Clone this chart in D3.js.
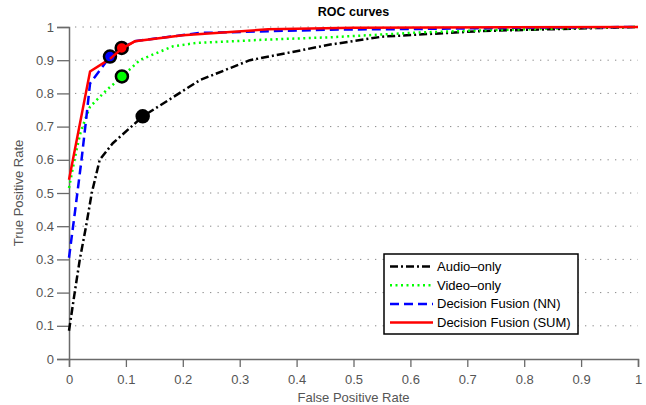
<!DOCTYPE html>
<html>
<head>
<meta charset="utf-8">
<script src="https://cdn.jsdelivr.net/npm/d3@7"></script>
<style>
  body { margin: 0; background: #fff; }
  text { font-family: "Liberation Sans", Arial, sans-serif; }
</style>
</head>
<body>
<div id="chart"></div>
<script>
// ROC curves, values
const audioFpr = [0, 0.01, 0.019, 0.03, 0.04, 0.054, 0.077, 0.13, 0.23, 0.318, 0.459, 0.551, 0.727, 1]
const audioTpr = [0.085, 0.2, 0.3, 0.4, 0.5, 0.6, 0.65, 0.731, 0.84, 0.9, 0.947, 0.971, 0.988, 1]

const videoFpr = [0, 0.005, 0.012, 0.02, 0.028, 0.037, 0.066, 0.087, 0.125, 0.183, 0.224, 0.347, 0.459, 0.61, 0.727, 0.903, 1]
const videoTpr = [0.515, 0.56, 0.62, 0.68, 0.72, 0.76, 0.81, 0.841, 0.901, 0.942, 0.952, 0.962, 0.969, 0.983, 0.99, 0.997, 1]

const nnFpr = [0, 0.011, 0.022, 0.03, 0.037, 0.055, 0.072, 0.113, 0.23, 0.459, 0.61, 0.81, 1]
const nnTpr = [0.305, 0.45, 0.6, 0.72, 0.83, 0.871, 0.911, 0.957, 0.982, 0.992, 0.994, 0.998, 1]

const sumFpr = [0, 0.037, 0.072, 0.093, 0.116, 0.2, 0.35, 0.5, 1]
const sumTpr = [0.54, 0.866, 0.904, 0.935, 0.957, 0.975, 0.993, 0.998, 1]

// operating points (circles)
const opNames = ["Audio-only", "Video-only", "Decision Fusion (NN)", "Decision Fusion (SUM)"]
const opFpr = [0.1295, 0.093, 0.072, 0.0926]
const opTpr = [0.731, 0.851, 0.911, 0.937]

const xTicks = [0, 0.1, 0.2, 0.3, 0.4, 0.5, 0.6, 0.7, 0.8, 0.9, 1]
const yTicks = [0, 0.1, 0.2, 0.3, 0.4, 0.5, 0.6, 0.7, 0.8, 0.9, 1]

const W = 646, H = 405
const margin = {top: 27, right: 8, bottom: 46, left: 69}

const svg = d3.select("#chart").append("svg")
  .attr("width", W).attr("height", H)

const x = d3.scaleLinear().domain([0, 1]).range([margin.left, W - margin.right])
const y = d3.scaleLinear().domain([0, 1]).range([H - margin.bottom, margin.top])

const axisColor = "#6a6a6a"
const labelColor = "#555"

// horizontal dotted grid
svg.append("g")
  .selectAll("line")
  .data(yTicks.filter(d => d > 0))
  .join("line")
    .attr("x1", x(0) + 6).attr("x2", x(1))
    .attr("y1", d => y(d)).attr("y2", d => y(d))
    .attr("stroke", "#888")
    .attr("stroke-width", 1)
    .attr("stroke-dasharray", "1.3,6.2")

// x axis
const xAxis = svg.append("g").attr("transform", `translate(0,${y(0)})`)
xAxis.call(d3.axisBottom(x).tickValues(d3.range(0, 1.001, 0.01)).tickSize(-2).tickFormat(""))
xAxis.call(d3.axisBottom(x).tickValues(d3.range(0.05, 1, 0.1)).tickSize(4).tickFormat(""))
xAxis.call(d3.axisBottom(x).tickValues(xTicks).tickSize(8).tickPadding(8).tickFormat(d => d3.format("")(d)))
xAxis.selectAll("path").attr("stroke", axisColor).attr("stroke-width", 1.5)
xAxis.selectAll("line").attr("stroke", axisColor).attr("stroke-width", 1.3)
xAxis.selectAll("text").attr("fill", labelColor).style("font-size", "13px")

// y axis
const yAxis = svg.append("g").attr("transform", `translate(${x(0)},0)`)
yAxis.call(d3.axisLeft(y).tickValues(d3.range(0.05, 1, 0.1)).tickSize(6).tickFormat(""))
yAxis.call(d3.axisLeft(y).tickValues(yTicks).tickSize(12).tickPadding(3).tickFormat(d => d3.format("")(d)))
yAxis.selectAll("path").attr("stroke", axisColor).attr("stroke-width", 1.5)
yAxis.selectAll("line").attr("stroke", axisColor).attr("stroke-width", 1.3)
yAxis.selectAll("text").attr("fill", labelColor).style("font-size", "13px")

// labels
svg.append("text")
  .attr("x", (x(0) + x(1)) / 2).attr("y", 16)
  .attr("text-anchor", "middle")
  .style("font-size", "12.5px").style("font-weight", "bold")
  .text("ROC curves")

svg.append("text")
  .attr("x", (x(0) + x(1)) / 2).attr("y", 402)
  .attr("text-anchor", "middle")
  .attr("fill", labelColor)
  .style("font-size", "13px")
  .text("False Positive Rate")

svg.append("text")
  .attr("transform", `translate(23,${(y(0) + y(1)) / 2}) rotate(-90)`)
  .attr("text-anchor", "middle")
  .attr("fill", labelColor)
  .style("font-size", "13px")
  .text("True Positive Rate")

// curves
const series = [
  {name: opNames[0], fpr: audioFpr, tpr: audioTpr, color: "#000", dash: "8,3,2,3"},
  {name: opNames[1], fpr: videoFpr, tpr: videoTpr, color: "#00ff00", dash: "2,3.5"},
  {name: opNames[2], fpr: nnFpr, tpr: nnTpr, color: "#0000ff", dash: "9,5"},
  {name: opNames[3], fpr: sumFpr, tpr: sumTpr, color: "#ff0000", dash: null}
]

const line = d3.line().x(d => x(d[0])).y(d => y(d[1]))

svg.append("g")
  .selectAll("path")
  .data(series)
  .join("path")
    .attr("fill", "none")
    .attr("stroke", d => d.color)
    .attr("stroke-width", 2.5)
    .attr("stroke-dasharray", d => d.dash)
    .attr("d", d => line(d.fpr.map((f, i) => [f, d.tpr[i]])))

// operating point markers
svg.append("g")
  .selectAll("circle")
  .data(series)
  .join("circle")
    .attr("cx", (d, i) => x(opFpr[i]))
    .attr("cy", (d, i) => y(opTpr[i]))
    .attr("r", 6)
    .attr("fill", d => d.color)
    .attr("stroke", "#000")
    .attr("stroke-width", 2.5)

// red line runs over its own marker
svg.append("path")
  .attr("fill", "none")
  .attr("stroke", "#ff0000")
  .attr("stroke-width", 2.5)
  .attr("d", line(sumFpr.map((f, i) => [f, sumTpr[i]]).filter(d => d[0] > 0.07 && d[0] < 0.12)))

// legend
const lg = svg.append("g").attr("transform", "translate(384,254)")
lg.append("rect")
  .attr("width", 194).attr("height", 80)
  .attr("fill", "#fff").attr("stroke", "#000").attr("stroke-width", 1.5)

const rows = lg.selectAll("g.row")
  .data(series)
  .join("g")
    .attr("class", "row")
    .attr("transform", (d, i) => `translate(0,${12.5 + i * 18.7})`)

rows.append("line")
  .attr("x1", 6).attr("x2", 49)
  .attr("stroke", d => d.color)
  .attr("stroke-width", 2.5)
  .attr("stroke-dasharray", d => d.dash)

rows.append("text")
  .attr("x", 53).attr("y", 0)
  .attr("dy", "0.35em")
  .style("font-size", "13px")
  .text(d => d.name.replace("-", "\u2013"))
</script>
</body>
</html>
